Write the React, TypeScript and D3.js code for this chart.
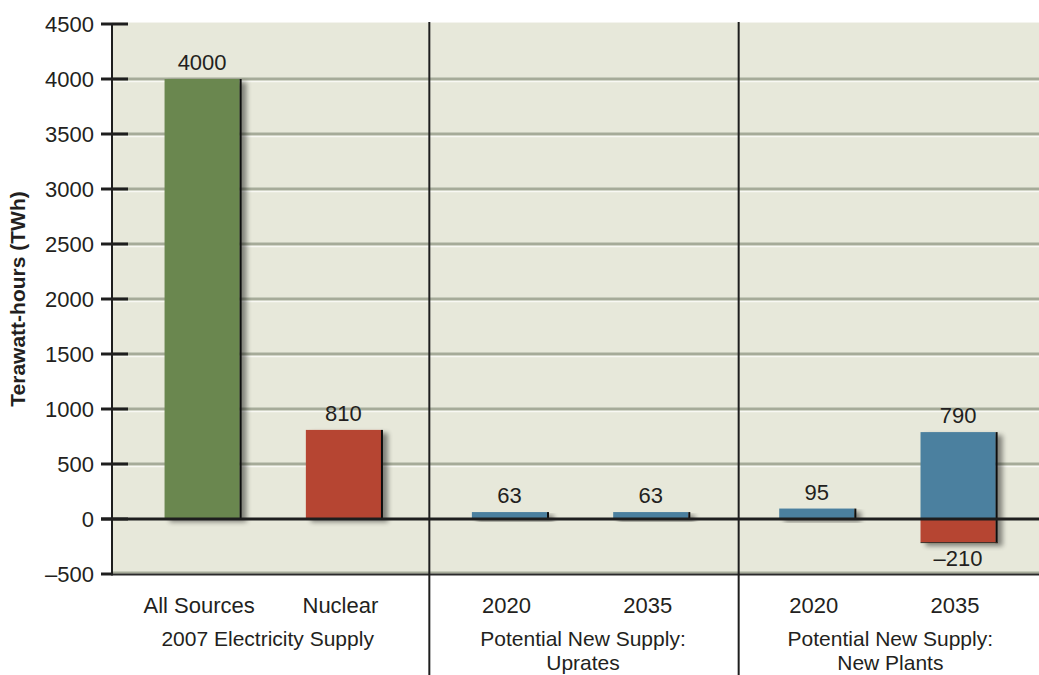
import { useRef, useEffect } from 'react';
import * as d3 from 'd3';

const GROUPS = [
  ['2007 Electricity Supply'],
  ['Potential New Supply:', 'Uprates'],
  ['Potential New Supply:', 'New Plants'],
];
const CATEGORIES = ['All Sources', 'Nuclear', '2020', '2035', '2020', '2035'];
const GROUP_OF = [0, 0, 1, 1, 2, 2];
const SLOT = [0, 1, 0, 1, 0, 1];
const KIND = ['all', 'nuclear', 'new', 'new', 'new', 'new'];
const GAINS = [4000, 810, 63, 63, 95, 790];
const LOSSES = [0, 0, 0, 0, 0, -210];
const Y_TICKS = [-500, 0, 500, 1000, 1500, 2000, 2500, 3000, 3500, 4000, 4500];

const COLORS: Record<string, string> = {
  all: '#6b8750',
  nuclear: '#b64431',
  new: '#4b809f',
  loss: '#b64431',
};

const FONT = '"Liberation Sans", Arial, Helvetica, sans-serif';
const TEXT = '#231f20';
const FS = 22;
const W = 1039;
const H = 675;

const fmt = (v: number) => (v < 0 ? '\u2013' + Math.abs(v) : String(v));

export default function App() {
  const svgRef = useRef<SVGSVGElement>(null);

  useEffect(() => {
    const svg = d3.select(svgRef.current);
    svg.selectAll('*').remove();

    const left = 112;
    const top = 22;
    const y = d3.scaleLinear().domain([-500, 4500]).range([574, 24]);
    const xg = d3.scaleBand<number>().domain([0, 1, 2]).range([124, 1046]);
    const xi = d3.scaleBand<number>().domain([0, 1]).range([0, xg.bandwidth()])
      .paddingInner(0.4685).paddingOuter(0.3217).align(0.446);
    const barX = (i: number) => xg(GROUP_OF[i])! + xi(SLOT[i])!;
    const bw = xi.bandwidth();

    const defs = svg.append('defs');
    const f = defs.append('filter').attr('id', 'shadow')
      .attr('x', '-20%').attr('y', '-20%').attr('width', '150%').attr('height', '150%');
    f.append('feGaussianBlur').attr('in', 'SourceAlpha').attr('stdDeviation', 2.5).attr('result', 'b');
    f.append('feOffset').attr('in', 'b').attr('dx', 5).attr('dy', 3).attr('result', 'o');
    f.append('feComponentTransfer').attr('in', 'o').attr('result', 's')
      .append('feFuncA').attr('type', 'linear').attr('slope', 0.45);
    const m = f.append('feMerge');
    m.append('feMergeNode').attr('in', 's');
    m.append('feMergeNode').attr('in', 'SourceGraphic');

    // plot background
    svg.append('rect')
      .attr('x', left).attr('y', top)
      .attr('width', W - left).attr('height', y(-500) - top)
      .attr('fill', '#e7e8da');
    svg.append('line')
      .attr('x1', left).attr('x2', W).attr('y1', top + 0.5).attr('y2', top + 0.5)
      .attr('stroke', '#f4f4ee').attr('stroke-width', 1);

    // grid lines
    const grid = Y_TICKS.filter(t => t > 0 && t < 4500);
    for (const t of grid) {
      svg.append('line')
        .attr('x1', left).attr('x2', W).attr('y1', y(t)).attr('y2', y(t))
        .attr('stroke', '#a6ab99').attr('stroke-width', 3);
      svg.append('line')
        .attr('x1', left).attr('x2', W).attr('y1', y(t) + 2.5).attr('y2', y(t) + 2.5)
        .attr('stroke', '#f8f8f3').attr('stroke-width', 1.5);
    }
    // bottom edge
    svg.append('line')
      .attr('x1', left).attr('x2', W).attr('y1', y(-500) - 1.5).attr('y2', y(-500) - 1.5)
      .attr('stroke', '#a6ab99').attr('stroke-width', 2);
    svg.append('line')
      .attr('x1', left).attr('x2', W).attr('y1', y(-500) + 0.5).attr('y2', y(-500) + 0.5)
      .attr('stroke', '#2a2a2a').attr('stroke-width', 2);

    // bars
    CATEGORIES.forEach((_, i) => {
      const x = barX(i);
      const g = svg.append('g').attr('filter', 'url(#shadow)');
      if (GAINS[i] > 0) {
        g.append('rect')
          .attr('x', x).attr('y', y(GAINS[i]))
          .attr('width', bw).attr('height', y(0) - y(GAINS[i]))
          .attr('fill', COLORS[KIND[i]]);
      }
      if (LOSSES[i] < 0) {
        g.append('rect')
          .attr('x', x).attr('y', y(0))
          .attr('width', bw).attr('height', y(LOSSES[i]) - y(0))
          .attr('fill', COLORS.loss);
      }
      const yTop = y(GAINS[i]);
      const yBot = y(Math.min(0, LOSSES[i]));
      g.append('line')
        .attr('x1', x + bw + 1).attr('x2', x + bw + 1)
        .attr('y1', yTop).attr('y2', yBot + (LOSSES[i] < 0 ? 1 : 0))
        .attr('stroke', '#111').attr('stroke-width', 2);
      if (LOSSES[i] < 0) {
        g.append('line')
          .attr('x1', x).attr('x2', x + bw + 2)
          .attr('y1', yBot + 0.5).attr('y2', yBot + 0.5)
          .attr('stroke', '#3a2a22').attr('stroke-width', 1);
      }
    });

    // value labels
    CATEGORIES.forEach((_, i) => {
      const cx = barX(i) + bw / 2;
      svg.append('text')
        .attr('x', cx).attr('y', y(GAINS[i]) - 9)
        .attr('text-anchor', 'middle')
        .attr('font-family', FONT).attr('font-size', FS).attr('fill', TEXT)
        .text(fmt(GAINS[i]));
      if (LOSSES[i] < 0) {
        svg.append('text')
          .attr('x', cx).attr('y', y(LOSSES[i]) + 24)
          .attr('text-anchor', 'middle')
          .attr('font-family', FONT).attr('font-size', FS).attr('fill', TEXT)
          .text(fmt(LOSSES[i]));
      }
    });

    // zero line
    svg.append('line')
      .attr('x1', 101).attr('x2', W).attr('y1', y(0)).attr('y2', y(0))
      .attr('stroke', '#1e1e1e').attr('stroke-width', 3);

    // group dividers
    for (const gi of [1, 2]) {
      const xd = xg(gi)! - 2 + (gi === 2 ? 2 : 0);
      svg.append('line')
        .attr('x1', xd).attr('x2', xd).attr('y1', top).attr('y2', H)
        .attr('stroke', '#1e1e1e').attr('stroke-width', 2);
    }

    // y axis
    svg.append('line')
      .attr('x1', left).attr('x2', left).attr('y1', y(4500)).attr('y2', y(-500) + 1.5)
      .attr('stroke', '#1e1e1e').attr('stroke-width', 2);
    for (const t of Y_TICKS) {
      svg.append('line')
        .attr('x1', 101).attr('x2', t === -500 ? left : 128).attr('y1', y(t)).attr('y2', y(t))
        .attr('stroke', '#1e1e1e').attr('stroke-width', 3);
      svg.append('text')
        .attr('x', 94).attr('y', y(t)).attr('dy', '0.35em')
        .attr('text-anchor', 'end')
        .attr('font-family', FONT).attr('font-size', FS).attr('fill', TEXT)
        .text(fmt(t));
    }

    // y title
    svg.append('text')
      .attr('transform', `translate(25,${(y(4500) + y(-500)) / 2}) rotate(-90)`)
      .attr('text-anchor', 'middle')
      .attr('font-family', FONT).attr('font-size', 21).attr('font-weight', 'bold').attr('fill', TEXT)
      .text('Terawatt-hours (TWh)');

    // category labels
    CATEGORIES.forEach((c, i) => {
      svg.append('text')
        .attr('x', barX(i) + bw / 2 - 3).attr('y', 613)
        .attr('text-anchor', 'middle')
        .attr('font-family', FONT).attr('font-size', FS).attr('fill', TEXT)
        .text(c);
    });

    // group labels
    GROUPS.forEach((lines, gi) => {
      const cx = xg(gi)! + xg.bandwidth() / 2 - (gi === 0 ? 10 : 2);
      lines.forEach((ln, li) => {
        svg.append('text')
          .attr('x', cx).attr('y', 646 + li * 24)
          .attr('text-anchor', 'middle')
          .attr('font-family', FONT).attr('font-size', 21).attr('fill', TEXT)
          .text(ln);
      });
    });
  }, []);

  return (
    <svg
      ref={svgRef}
      width={W}
      height={H}
      style={{ position: 'absolute', left: 0, top: 0, background: '#fff' }}
    />
  );
}
